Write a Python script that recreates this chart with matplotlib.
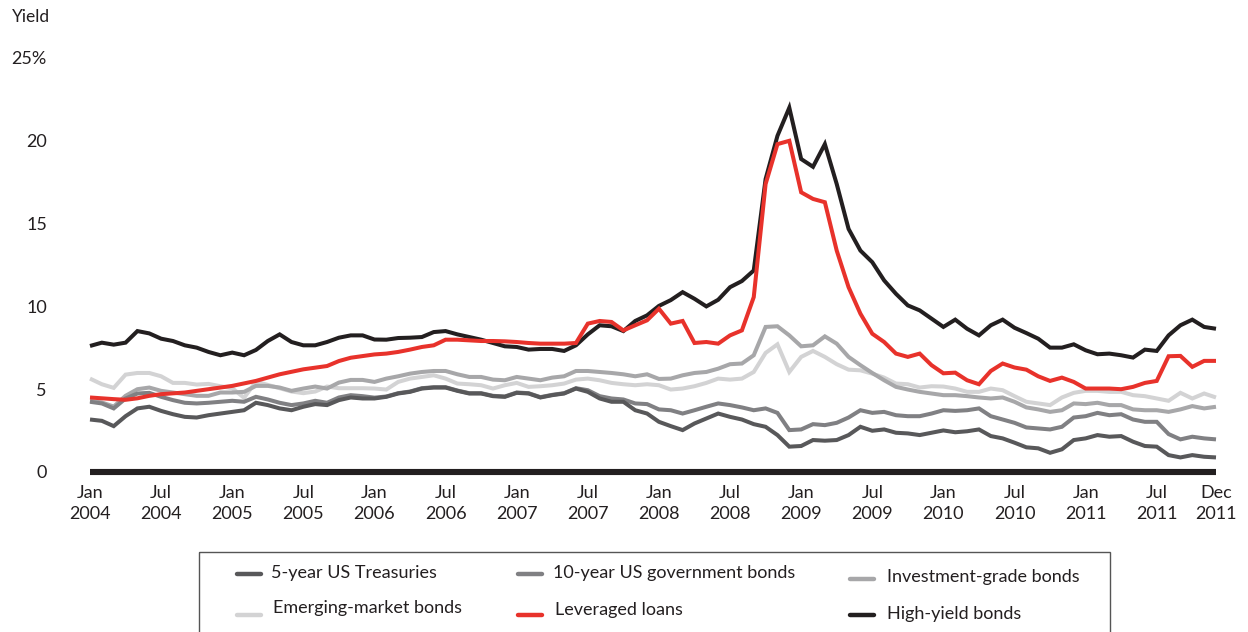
import matplotlib
matplotlib.use("Agg")
import matplotlib.pyplot as plt
from matplotlib.patches import Rectangle
import numpy as np

# ---------------- data (monthly, Jan 2004 .. Dec 2011) ----------------
months = np.arange(96)

tick_months = [0, 6, 12, 18, 24, 30, 36, 42, 48, 54, 60, 66, 72, 78, 84, 90, 95]
tick_labels = ["Jan\n2004", "Jul\n2004", "Jan\n2005", "Jul\n2005", "Jan\n2006", "Jul\n2006",
               "Jan\n2007", "Jul\n2007", "Jan\n2008", "Jul\n2008", "Jan\n2009", "Jul\n2009",
               "Jan\n2010", "Jul\n2010", "Jan\n2011", "Jul\n2011", "Dec\n2011"]
y_ticks = [0, 5, 10, 15, 20, 25]
y_labels = ["0", "5", "10", "15", "20", "25%"]

treas_5y = [3.17, 3.09, 2.77, 3.37, 3.84, 3.94, 3.69, 3.49, 3.33, 3.29, 3.43, 3.53,
            3.63, 3.73, 4.18, 4.04, 3.84, 3.73, 3.94, 4.10, 4.04, 4.34, 4.50, 4.44,
            4.44, 4.54, 4.74, 4.84, 5.04, 5.10, 5.10, 4.90, 4.74, 4.74, 4.58, 4.54,
            4.78, 4.74, 4.50, 4.64, 4.74, 5.04, 4.84, 4.44, 4.24, 4.24, 3.73, 3.53,
            3.03, 2.77, 2.53, 2.93, 3.23, 3.53, 3.33, 3.17, 2.89, 2.73, 2.23, 1.53,
            1.57, 1.93, 1.89, 1.93, 2.23, 2.73, 2.49, 2.57, 2.37, 2.33, 2.23, 2.37,
            2.51, 2.40, 2.46, 2.57, 2.17, 2.03, 1.77, 1.49, 1.43, 1.16, 1.37, 1.93,
            2.03, 2.23, 2.13, 2.17, 1.83, 1.57, 1.53, 1.02, 0.88, 1.02, 0.92, 0.88]

gov_10y = [4.24, 4.14, 3.84, 4.44, 4.74, 4.78, 4.54, 4.34, 4.18, 4.14, 4.18, 4.24,
           4.30, 4.24, 4.54, 4.38, 4.18, 4.04, 4.14, 4.30, 4.18, 4.50, 4.64, 4.58,
           4.49, 4.56, 4.76, 4.86, 5.06, 5.12, 5.12, 4.92, 4.76, 4.76, 4.60, 4.56,
           4.80, 4.76, 4.52, 4.66, 4.76, 5.06, 4.94, 4.58, 4.44, 4.38, 4.14, 4.10,
           3.78, 3.73, 3.53, 3.73, 3.94, 4.14, 4.04, 3.90, 3.73, 3.84, 3.57, 2.53,
           2.57, 2.89, 2.83, 2.97, 3.29, 3.73, 3.57, 3.63, 3.43, 3.37, 3.37, 3.53,
           3.73, 3.69, 3.73, 3.84, 3.37, 3.17, 2.97, 2.69, 2.63, 2.57, 2.73, 3.29,
           3.37, 3.57, 3.43, 3.49, 3.17, 3.03, 3.03, 2.29, 1.97, 2.13, 2.03, 1.97]

inv_grade = [4.30, 4.20, 3.95, 4.60, 5.00, 5.10, 4.90, 4.80, 4.70, 4.60, 4.60, 4.80,
             4.80, 4.84, 5.20, 5.20, 5.10, 4.90, 5.04, 5.16, 5.04, 5.40, 5.56, 5.56,
             5.44, 5.64, 5.78, 5.94, 6.04, 6.10, 6.10, 5.90, 5.74, 5.74, 5.58, 5.54,
             5.74, 5.64, 5.54, 5.70, 5.78, 6.10, 6.10, 6.04, 5.98, 5.90, 5.78, 5.90,
             5.62, 5.64, 5.84, 5.98, 6.04, 6.24, 6.51, 6.55, 7.05, 8.76, 8.80, 8.25,
             7.59, 7.65, 8.19, 7.75, 6.95, 6.45, 5.98, 5.54, 5.14, 4.98, 4.84, 4.74,
             4.64, 4.64, 4.58, 4.50, 4.44, 4.50, 4.24, 3.90, 3.78, 3.63, 3.73, 4.14,
             4.10, 4.18, 4.04, 4.04, 3.78, 3.73, 3.73, 3.63, 3.78, 3.98, 3.84, 3.94]

emerging = [5.64, 5.30, 5.08, 5.88, 5.98, 5.98, 5.78, 5.38, 5.38, 5.28, 5.32, 5.18,
            5.06, 4.48, 5.46, 5.26, 5.06, 4.86, 4.76, 4.86, 5.16, 5.06, 5.06, 5.06,
            5.04, 4.98, 5.44, 5.64, 5.74, 5.84, 5.64, 5.34, 5.30, 5.24, 5.04, 5.24,
            5.38, 5.14, 5.18, 5.24, 5.34, 5.58, 5.64, 5.54, 5.38, 5.30, 5.24, 5.30,
            5.24, 4.98, 5.04, 5.18, 5.38, 5.64, 5.58, 5.64, 6.04, 7.19, 7.71, 6.04,
            6.95, 7.31, 6.95, 6.51, 6.18, 6.14, 5.94, 5.70, 5.34, 5.30, 5.10, 5.18,
            5.16, 5.04, 4.84, 4.84, 5.04, 4.94, 4.58, 4.24, 4.14, 4.04, 4.50, 4.78,
            4.90, 4.90, 4.84, 4.84, 4.64, 4.58, 4.44, 4.30, 4.78, 4.44, 4.74, 4.50]

lev_loans = [4.50, 4.45, 4.40, 4.36, 4.45, 4.60, 4.70, 4.75, 4.80, 4.90, 5.00, 5.10,
             5.20, 5.35, 5.50, 5.70, 5.90, 6.05, 6.20, 6.30, 6.40, 6.70, 6.90, 7.00,
             7.10, 7.15, 7.25, 7.39, 7.55, 7.65, 7.99, 7.99, 7.95, 7.91, 7.91, 7.89,
             7.85, 7.79, 7.75, 7.75, 7.75, 7.79, 8.96, 9.12, 9.06, 8.55, 8.86, 9.16,
             9.86, 8.96, 9.12, 7.79, 7.85, 7.75, 8.25, 8.55, 10.56, 17.39, 19.80, 20.00,
             16.89, 16.49, 16.29, 13.37, 11.16, 9.56, 8.35, 7.85, 7.15, 6.95, 7.15, 6.45,
             5.96, 6.00, 5.54, 5.30, 6.10, 6.55, 6.31, 6.18, 5.78, 5.50, 5.70, 5.44,
             5.04, 5.04, 5.04, 5.00, 5.14, 5.38, 5.50, 6.99, 7.01, 6.35, 6.71, 6.71]

high_yield = [7.61, 7.81, 7.69, 7.81, 8.51, 8.37, 8.05, 7.91, 7.65, 7.51, 7.25, 7.05,
              7.21, 7.05, 7.37, 7.91, 8.31, 7.85, 7.65, 7.65, 7.85, 8.11, 8.25, 8.25,
              8.00, 7.99, 8.09, 8.11, 8.15, 8.45, 8.51, 8.31, 8.15, 7.99, 7.79, 7.59,
              7.55, 7.39, 7.43, 7.43, 7.31, 7.65, 8.31, 8.86, 8.80, 8.51, 9.12, 9.46,
              10.03, 10.38, 10.86, 10.46, 10.00, 10.40, 11.16, 11.53, 12.17, 17.69, 20.30, 22.00,
              18.90, 18.43, 19.80, 17.39, 14.68, 13.37, 12.67, 11.57, 10.76, 10.06, 9.76, 9.26,
              8.76, 9.20, 8.65, 8.25, 8.86, 9.20, 8.71, 8.39, 8.05, 7.51, 7.51, 7.71,
              7.35, 7.11, 7.15, 7.05, 6.91, 7.39, 7.31, 8.25, 8.86, 9.20, 8.76, 8.65]

series_names = ["5-year US Treasuries", "10-year US government bonds", "Investment-grade bonds",
                "Emerging-market bonds", "Leveraged loans", "High-yield bonds"]

# ---------------- style ----------------
FONT = "Lato"
TXT = "#231f20"
colors = {
    "5-year US Treasuries": "#58585a",
    "10-year US government bonds": "#808083",
    "Investment-grade bonds": "#a7a7a9",
    "Emerging-market bonds": "#d3d3d4",
    "Leveraged loans": "#e8322b",
    "High-yield bonds": "#231f20",
}
data = {
    "5-year US Treasuries": treas_5y,
    "10-year US government bonds": gov_10y,
    "Investment-grade bonds": inv_grade,
    "Emerging-market bonds": emerging,
    "Leveraged loans": lev_loans,
    "High-yield bonds": high_yield,
}

W, H = 1248, 632
fig = plt.figure(figsize=(W / 100, H / 100), dpi=100)
ax = fig.add_axes([90 / W, (H - 472) / H, (1216 - 90) / W, (472 - 58) / H])

draw_order = ["Emerging-market bonds", "Investment-grade bonds", "10-year US government bonds",
              "5-year US Treasuries", "High-yield bonds", "Leveraged loans"]
for name in draw_order:
    ax.plot(months, data[name], color=colors[name], lw=2.9, solid_joinstyle="miter",
            solid_capstyle="butt", clip_on=False, zorder=3)

# zero baseline
ax.plot([months[0], months[-1]], [0, 0], color=TXT, lw=4.4, solid_capstyle="butt",
        clip_on=False, zorder=4)

ax.set_xlim(0, 95)
ax.set_ylim(0, 25)
for s in ax.spines.values():
    s.set_visible(False)
ax.set_xticks(tick_months)
ax.set_xticklabels(tick_labels, fontfamily=FONT, fontsize=13, color=TXT, linespacing=1.4)
ax.set_yticks(y_ticks)
ax.set_yticklabels(y_labels, fontfamily=FONT, fontsize=13, color=TXT)
ax.tick_params(axis="x", length=0, pad=9)
ax.tick_params(axis="y", length=0, pad=31)

fig.text(12 / W, 1 - 17 / H, "Yield", fontfamily=FONT, fontsize=12.5, color=TXT,
         ha="left", va="center")

# ---------------- legend (drawn in pixel space) ----------------
lax = fig.add_axes([0, 0, 1, 1])
lax.set_xlim(0, W)
lax.set_ylim(H, 0)
lax.axis("off")
lax.add_patch(Rectangle((199, 552), 1110 - 199, 120, fill=False, edgecolor="#555555", lw=1.0,
                        clip_on=False))

legend_layout = [
    ("5-year US Treasuries", 237, 271, 574, 573),
    ("10-year US government bonds", 518, 553, 574, 573),
    ("Investment-grade bonds", 850, 887, 579, 577),
    ("Emerging-market bonds", 237, 273, 615, 608),
    ("Leveraged loans", 518, 555, 615, 610),
    ("High-yield bonds", 850, 887, 615, 614),
]
for name, hx, tx, hy, ty in legend_layout:
    lax.plot([hx, hx + 24], [hy, hy], color=colors[name], lw=3.2, solid_capstyle="round")
    lax.text(tx, ty, name, fontfamily=FONT, fontsize=13, color=TXT, ha="left", va="center")

fig.savefig("out.png", dpi=100)
